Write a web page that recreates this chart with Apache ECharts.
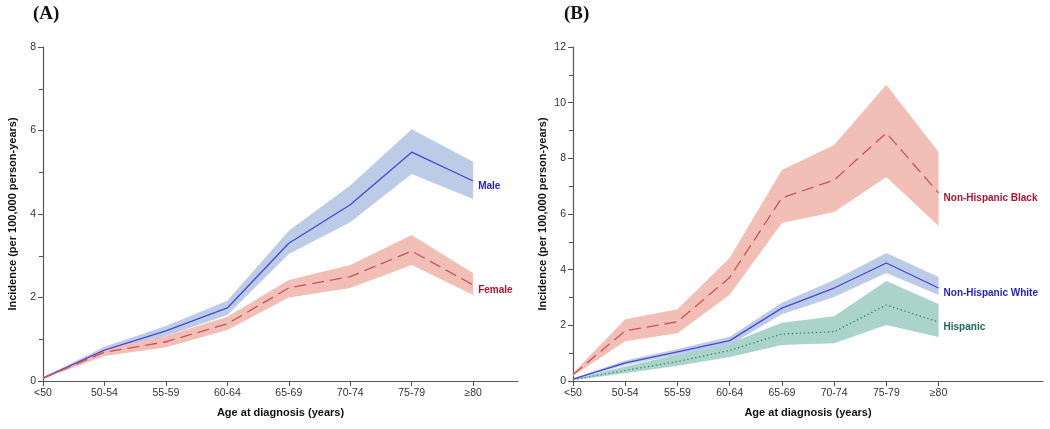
<!DOCTYPE html>
<html>
<head>
<meta charset="utf-8">
<script src="https://cdn.jsdelivr.net/npm/echarts@6/dist/echarts.min.js"></script>
<style>
html,body{margin:0;padding:0;background:#fff;}
#chart{width:1050px;height:429px;}
</style>
</head>
<body>
<div id="chart"></div>
<script>
// ---- data ----
const categories = ['<50','50-54','55-59','60-64','65-69','70-74','75-79','\u226580'];
const yTicksA = [0,2,4,6,8];
const yTicksB = [0,2,4,6,8,10,12];

const maleRate   = [0.07,0.74,1.20,1.75,3.30,4.22,5.48,4.79];
const maleLow    = [0.05,0.67,1.08,1.58,3.04,3.80,4.96,4.36];
const maleHigh   = [0.09,0.82,1.32,1.92,3.60,4.68,6.03,5.25];
const femaleRate = [0.07,0.69,0.94,1.37,2.23,2.50,3.11,2.30];
const femaleLow  = [0.05,0.60,0.81,1.22,2.00,2.23,2.78,2.06];
const femaleHigh = [0.09,0.77,1.08,1.54,2.42,2.78,3.50,2.58];

const nhbRate  = [0.23,1.80,2.13,3.72,6.58,7.22,8.91,6.76];
const nhbLow   = [0.18,1.43,1.72,3.10,5.68,6.07,7.33,5.57];
const nhbHigh  = [0.28,2.22,2.58,4.42,7.58,8.48,10.64,8.23];
const nhwRate  = [0.07,0.65,1.05,1.45,2.62,3.34,4.24,3.34];
const nhwLow   = [0.05,0.57,0.95,1.29,2.40,3.02,3.88,3.09];
const nhwHigh  = [0.09,0.74,1.15,1.59,2.81,3.63,4.60,3.74];
const hispRate = [0.05,0.38,0.70,1.10,1.69,1.77,2.73,2.12];
const hispLow  = [0.03,0.28,0.55,0.86,1.29,1.36,2.01,1.58];
const hispHigh = [0.07,0.52,0.95,1.36,2.09,2.33,3.59,2.77];

// ---- build ----
const chart = echarts.init(document.getElementById('chart'), null, {renderer:'canvas'});
const FONT = "'Liberation Sans', Arial, sans-serif";
const tickIdx = categories.map((c,i)=>i);

function pts(arr){ return arr.map((v,i)=>[i,v]); }

// confidence band drawn as polygon through the axis scales
function band(id, low, high, color, gi){
  const data = low.map((l,i)=>[i, l, high[i]]);
  return {
    type:'custom', name:id, xAxisIndex:gi, yAxisIndex:gi, data:data, silent:true, z:1,
    encode:{x:0, y:[1,2]},
    renderItem:function(params, api){
      if (params.dataIndex !== 0) return null;
      const upper = data.map(d=>api.coord([d[0], d[2]]));
      const lower = data.slice().reverse().map(d=>api.coord([d[0], d[1]]));
      return {type:'polygon', shape:{points:upper.concat(lower)}, style:{fill:color, stroke:null}};
    }
  };
}
function line(name, rate, color, dash, labelColor, gi){
  return {type:'line', name:name, xAxisIndex:gi, yAxisIndex:gi, data:pts(rate), symbol:'none', z:3,
    lineStyle:{color:color, width:1.3, type:dash},
    endLabel:{show:true, formatter:'{a}', color:labelColor, fontFamily:FONT, fontWeight:'bold', fontSize:10, offset:[-3,5]}};
}

function xAxis(gi, max){
  return {type:'value', gridIndex:gi, min:0, max:max, interval:1,
    axisLine:{show:true, onZero:false, lineStyle:{color:'#555', width:1.2}},
    axisTick:{show:true, length:5, customValues:tickIdx, lineStyle:{color:'#555'}},
    axisLabel:{customValues:tickIdx, formatter:v=>categories[Math.round(v)], color:'#333', fontFamily:FONT, fontSize:10.5, margin:7},
    splitLine:{show:false},
    name:'Age at diagnosis (years)', nameLocation:'middle', nameGap:26,
    nameTextStyle:{fontFamily:FONT, fontWeight:'bold', fontSize:11, color:'#111'}};
}
function yAxis(gi, max){
  return {type:'value', gridIndex:gi, min:0, max:max, interval:2,
    axisLine:{show:true, lineStyle:{color:'#555', width:1.2}},
    axisTick:{show:true, length:5, lineStyle:{color:'#555'}},
    minorTick:{show:true, splitNumber:2, length:4, lineStyle:{color:'#555'}},
    axisLabel:{color:'#333', fontFamily:FONT, fontSize:10.5, margin:7},
    splitLine:{show:false},
    name:'Incidence (per 100,000 person-years)', nameLocation:'middle', nameGap:25,
    nameTextStyle:{fontFamily:FONT, fontWeight:'bold', fontSize:11, color:'#111'}};
}

const BLUE_BAND = '#bccbe6', RED_BAND = '#f1bfb5', GREEN_BAND = '#aad4ca';
const BLUE_LINE = '#4548d8', RED_LINE = '#cf5158', GREEN_LINE = '#3f8e7c';

const option = {
  animation:false,
  textStyle:{fontFamily:FONT},
  grid:[
    {left:43, top:47, width:475, height:334},
    {left:573, top:47, width:470, height:334}
  ],
  xAxis:[xAxis(0, 7.73), xAxis(1, 9)],
  yAxis:[yAxis(0, 8), yAxis(1, 12)],
  graphic:[
    {type:'text', left:33, top:5, style:{text:'(A)', font:"bold 19px 'Liberation Serif', 'Times New Roman', serif", fill:'#111'}},
    {type:'text', left:564, top:5, style:{text:'(B)', font:"bold 19px 'Liberation Serif', 'Times New Roman', serif", fill:'#111'}}
  ],
  series:[
    band('male', maleLow, maleHigh, BLUE_BAND, 0),
    band('female', femaleLow, femaleHigh, RED_BAND, 0),
    line('Male', maleRate, BLUE_LINE, 'solid', '#1e1ee0', 0),
    line('Female', femaleRate, RED_LINE, [12,6], '#b3122e', 0),
    band('nhb', nhbLow, nhbHigh, RED_BAND, 1),
    band('hisp', hispLow, hispHigh, GREEN_BAND, 1),
    band('nhw', nhwLow, nhwHigh, BLUE_BAND, 1),
    line('Non-Hispanic Black', nhbRate, RED_LINE, [12,6], '#b3122e', 1),
    line('Non-Hispanic White', nhwRate, BLUE_LINE, 'solid', '#1e1ed0', 1),
    line('Hispanic', hispRate, GREEN_LINE, [1.5,2.5], '#1c6b5a', 1)
  ]
};
chart.setOption(option);
</script>
</body>
</html>
